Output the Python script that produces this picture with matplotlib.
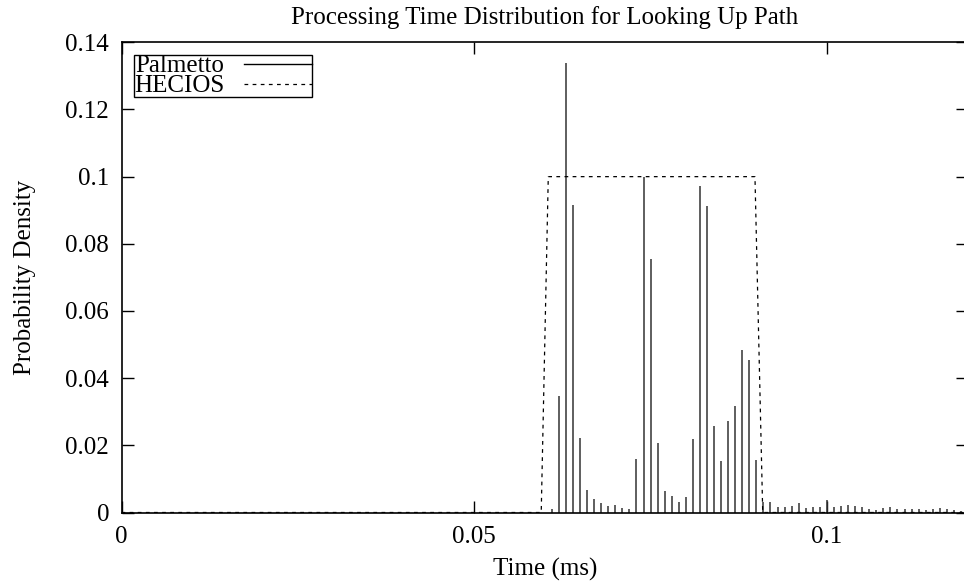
import numpy as np
import matplotlib
matplotlib.use("Agg")
import matplotlib.pyplot as plt
from matplotlib.lines import Line2D

plt.rcParams['font.family'] = ['Liberation Serif', 'DejaVu Serif']

# Palmetto histogram (impulses), one bin per 0.001 ms from 0.061 to 0.119
palmetto_time = np.round(np.arange(61, 120) * 0.001, 3)
palmetto_density = [
    0.0010, 0.0348, 0.1337, 0.0915, 0.0223, 0.0066, 0.0041, 0.0027, 0.0018, 0.0022,
    0.0014, 0.0010, 0.0159, 0.1000, 0.0755, 0.0206, 0.0064, 0.0050, 0.0030, 0.0046,
    0.0220, 0.0973, 0.0912, 0.0258, 0.0153, 0.0273, 0.0316, 0.0483, 0.0453, 0.0155,
    0.0030, 0.0030, 0.0017, 0.0017, 0.0020, 0.0028, 0.0013, 0.0017, 0.0017, 0.0037,
    0.0017, 0.0020, 0.0023, 0.0020, 0.0017, 0.0010, 0.0007, 0.0013, 0.0017, 0.0010,
    0.0010, 0.0010, 0.0010, 0.0006, 0.0010, 0.0012, 0.0010, 0.0006, 0.0004,
]

# HECIOS (uniform-ish density, dashed outline)
hecios_time = [0.0, 0.0595, 0.0605, 0.0898, 0.0909, 0.12]
hecios_density = [0.0, 0.0, 0.1, 0.1, 0.0, 0.0]

xticks = [0, 0.05, 0.1]
xtick_labels = ['0', '0.05', '0.1']
yticks = [0, 0.02, 0.04, 0.06, 0.08, 0.1, 0.12, 0.14]
ytick_labels = ['0', '0.02', '0.04', '0.06', '0.08', '0.1', '0.12', '0.14']

fs = 18
dash = (0, (3, 3.5))

fig = plt.figure(figsize=(9.64, 5.83), dpi=100)
ax = fig.add_axes([121.5 / 964, 70.5 / 583, 846.5 / 964, 470.2 / 583])

ax.vlines(palmetto_time, 0, palmetto_density, colors='#333333', linewidth=1.1)
ax.plot(hecios_time, hecios_density, color='black', linewidth=0.9, linestyle=dash)

ax.set_xlim(0, 0.12)
ax.set_ylim(0, 0.14)
ax.set_xticks(xticks)
ax.set_xticklabels(xtick_labels)
ax.set_yticks(yticks)
ax.set_yticklabels(ytick_labels)
ax.tick_params(direction='in', length=8.6, width=1.0, top=True, right=True,
               labelsize=fs)
ax.tick_params(axis='y', pad=9)
ax.tick_params(axis='x', pad=10)
for s in ax.spines.values():
    s.set_linewidth(1.2)

ax.set_title('Processing Time Distribution for Looking Up Path', fontsize=fs, pad=13)
ax.set_xlabel('Time (ms)', fontsize=fs, labelpad=7)
ax.set_ylabel('Probability Density', fontsize=fs, labelpad=21)

# legend, gnuplot-like: text first then sample, tight rows
handles = [Line2D([], [], color='black', linewidth=1.0),
           Line2D([], [], color='black', linewidth=0.9, linestyle=dash)]
leg = ax.legend(handles, ['Palmetto', 'HECIOS'], loc='upper left', fontsize=fs,
                markerfirst=False, frameon=True, fancybox=False, framealpha=1,
                edgecolor='black', borderpad=0.0, labelspacing=-0.1,
                handlelength=2.7, handletextpad=0.8, borderaxespad=0.5)
leg.get_frame().set_linewidth(1.0)

fig.savefig('out.png', dpi=100)
